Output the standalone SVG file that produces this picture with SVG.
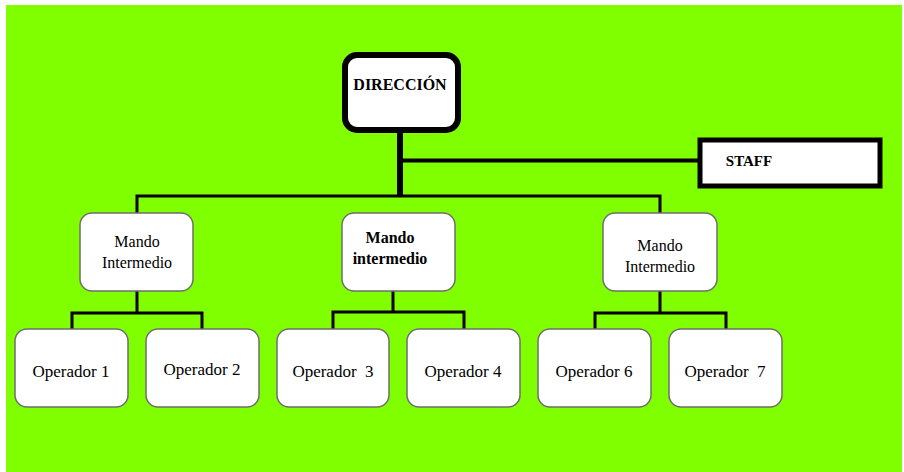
<svg xmlns="http://www.w3.org/2000/svg" width="904" height="472" viewBox="0 0 904 472">
<style>
.n{fill:#fff;stroke:#6e6e6e;stroke-width:1.5}
text{font-family:'Liberation Serif','Times New Roman',serif;fill:#000;text-anchor:middle}
.o{font-size:17px}
.c{stroke:#000;fill:none;stroke-width:3}
</style>
<rect x="0" y="0" width="904" height="472" fill="#fff"/>
<rect x="6" y="5" width="896" height="467" fill="#80ff00"/>
<g id="connectors">
<line class="c" x1="400" y1="130" x2="400" y2="197" style="stroke-width:6"/>
<line class="c" x1="400" y1="160.5" x2="700" y2="160.5" style="stroke-width:4"/>
<polyline class="c" points="137,213 137,196 660,196 660,213"/>
<polyline class="c" points="137,291 137,313"/>
<polyline class="c" points="72,330 72,313 202,313 202,330"/>
<polyline class="c" points="393,291 393,312"/>
<polyline class="c" points="333,330 333,312 464,312 464,330"/>
<polyline class="c" points="660,291 660,313"/>
<polyline class="c" points="595,330 595,313 726,313 726,330"/>
</g>
<g id="direccion">
<rect x="345" y="55" width="113" height="75" rx="12" fill="#fff" stroke="#000" stroke-width="6"/>
<text x="400" y="90" font-size="16" font-weight="bold">DIRECCIÓN</text>
</g>
<g id="staff">
<rect x="700" y="140" width="180" height="46" fill="#fff" stroke="#000" stroke-width="5"/>
<text x="749" y="166" font-size="15" font-weight="bold">STAFF</text>
</g>
<g id="mando1">
<rect class="n" x="80" y="213" width="113" height="78" rx="12"/>
<text x="137" y="247" font-size="16">Mando</text>
<text x="137" y="268" font-size="16">Intermedio</text>
</g>
<g id="mando2">
<rect class="n" x="342" y="213" width="113" height="78" rx="12"/>
<text x="390" y="243" font-size="16" font-weight="bold">Mando</text>
<text x="390" y="264" font-size="16" font-weight="bold">intermedio</text>
</g>
<g id="mando3">
<rect class="n" x="603" y="213" width="114" height="78" rx="12"/>
<text x="660" y="251" font-size="16">Mando</text>
<text x="660" y="272" font-size="16">Intermedio</text>
</g>
<g id="op1">
<rect class="n" x="15" y="329" width="113" height="78" rx="12"/>
<text class="o" x="71" y="377">Operador 1</text>
</g>
<g id="op2">
<rect class="n" x="146" y="329" width="113" height="78" rx="12"/>
<text class="o" x="202" y="375">Operador 2</text>
</g>
<g id="op3">
<rect class="n" x="277" y="329" width="112" height="78" rx="12"/>
<text class="o" x="333" y="377" xml:space="preserve">Operador  3</text>
</g>
<g id="op4">
<rect class="n" x="407" y="329" width="113" height="78" rx="12"/>
<text class="o" x="463" y="377">Operador 4</text>
</g>
<g id="op6">
<rect class="n" x="538" y="329" width="113" height="78" rx="12"/>
<text class="o" x="594" y="377">Operador 6</text>
</g>
<g id="op7">
<rect class="n" x="669" y="329" width="113" height="78" rx="12"/>
<text class="o" x="725" y="377" xml:space="preserve">Operador  7</text>
</g>
</svg>
